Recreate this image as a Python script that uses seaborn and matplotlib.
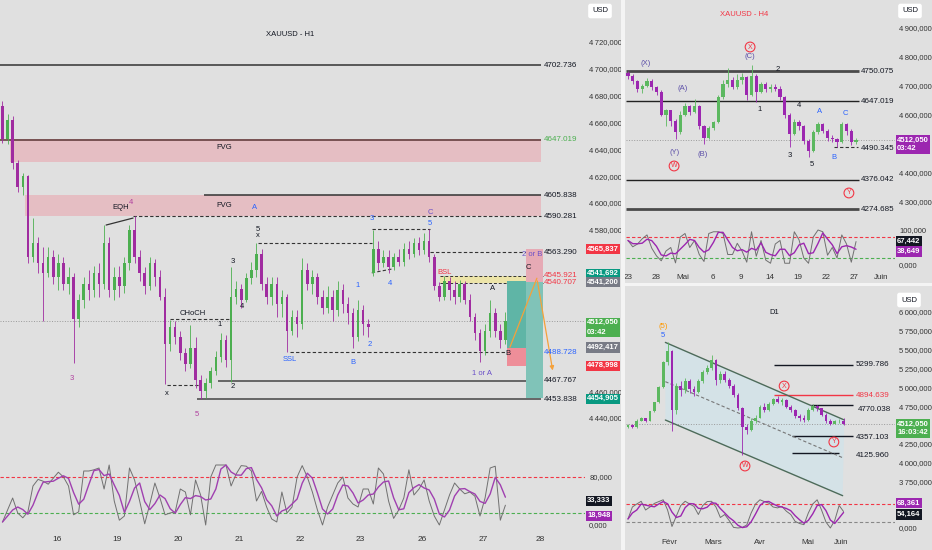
import numpy as np
import pandas as pd
import matplotlib
matplotlib.use("Agg")
import matplotlib.pyplot as plt
import matplotlib.transforms as mtransforms
from matplotlib.patches import Rectangle
import seaborn as sns

# ---------------- DATA : XAUUSD H1 (main) ----------------
h1_open = [4672,4648,4662,4630,4612,4620,4560,4570,4555,4548,
           4560,4545,4555,4540,4545,4514,4528,4540,4535,4548,
           4540,4570,4535,4545,4538,4555,4580,4560,4548,4538,
           4555,4545,4530,4495,4508,4500,4488,4480,4492,4468,
           4460,4466,4475,4485,4498,4483,4530,4536,4528,4544,
           4550,4562,4540,4530,4540,4525,4530,4505,4515,4510,
           4550,4540,4545,4530,4522,4530,4520,4535,4525,4518,
           4500,4520,4510,4548,4566,4555,4560,4552,4560,4556,
           4566,4562,4570,4565,4572,4560,4538,4530,4542,4535,
           4530,4540,4528,4515,4503,4490,4505,4518,4505,4498]
h1_close = [4648,4662,4630,4612,4620,4560,4570,4555,4548,4560,
            4545,4555,4540,4545,4514,4528,4540,4535,4548,4540,
            4570,4535,4545,4538,4555,4580,4560,4548,4538,4555,
            4545,4530,4495,4508,4500,4488,4480,4492,4468,4460,
            4466,4475,4485,4498,4483,4530,4536,4528,4544,4550,
            4562,4540,4530,4540,4525,4530,4505,4515,4510,4550,
            4540,4545,4530,4522,4530,4520,4535,4525,4518,4500,
            4520,4510,4508,4566,4555,4560,4552,4560,4556,4566,
            4562,4570,4565,4572,4560,4538,4530,4542,4535,4530,
            4540,4528,4515,4503,4490,4505,4518,4505,4498,4512]
h1_high = [4676,4666,4665,4632,4622,4621,4589,4575,4567,4567,
           4565,4562,4560,4552,4548,4532,4545,4550,4553,4555,
           4584,4575,4552,4553,4560,4584,4590,4565,4552,4560,
           4558,4550,4537,4513,4512,4505,4492,4509,4500,4472,
           4470,4478,4490,4503,4502,4552,4542,4540,4548,4556,
           4570,4566,4545,4545,4545,4535,4532,4520,4520,4559,
           4555,4550,4548,4535,4538,4535,4542,4540,4530,4522,
           4528,4524,4514,4580,4572,4565,4565,4563,4566,4570,
           4572,4574,4575,4578,4581,4562,4541,4546,4545,4542,
           4543,4542,4532,4518,4506,4510,4528,4522,4510,4519]
h1_low = [4645,4644,4625,4608,4606,4555,4556,4548,4512,4545,
          4540,4535,4535,4532,4481,4508,4522,4528,4530,4530,
          4536,4530,4528,4530,4533,4550,4555,4542,4532,4535,
          4538,4528,4465,4490,4495,4483,4475,4477,4462,4454,
          4455,4462,4472,4482,4478,4467,4525,4522,4526,4540,
          4545,4535,4525,4524,4515,4515,4489,4502,4500,4506,
          4535,4532,4525,4517,4518,4512,4516,4518,4510,4492,
          4497,4502,4500,4546,4550,4552,4548,4550,4553,4553,
          4558,4560,4561,4562,4556,4535,4527,4528,4528,4525,
          4526,4525,4512,4498,4482,4487,4500,4500,4492,4495]
h1_stoch_k = [5,25,45,20,12,22,65,76,73,68,
              78,88,80,65,17,22,90,90,92,95,
              60,100,40,8,15,95,75,40,2,35,
              70,45,17,20,22,60,55,17,75,50,
              0,80,100,100,100,65,85,99,98,90,
              40,56,30,10,5,55,20,30,80,99,
              80,55,25,0,30,50,70,80,45,35,
              30,60,60,35,95,85,40,11,25,45,
              92,50,60,75,40,15,0,25,50,70,
              60,52,55,48,15,45,95,98,8,33]
h1_day_labels = ["16", "19", "20", "21", "22", "23", "26", "27", "28"]
h1_day_pos = [10.7, 22.5, 34.6, 46.6, 58.6, 70.4, 82.6, 94.6, 105.8]
h1_price_ticks = [4440, 4460, 4580, 4600, 4620, 4640, 4660, 4680, 4700, 4720]
h1_last = 4512.050
h1_fvg1 = (4630.5, 4647.5)
h1_fvg2 = (4590.3, 4606.0)
h1_levels_solid = [4702.736, 4647.019, 4605.838, 4467.767, 4453.838]
h1_levels_dashed = [4590.281, 4563.290, 4488.728]
h1_level_texts = [(4702.736, "4702.736", "#131722"), (4647.019, "4647.019", "#4caf50"),
                  (4605.838, "4605.838", "#131722"), (4590.281, "4590.281", "#131722"),
                  (4563.290, "4563.290", "#131722"), (4545.921, "4545.921", "#f23645"),
                  (4540.707, "4540.707", "#f23645"), (4488.728, "4488.728", "#2962ff"),
                  (4467.767, "4467.767", "#131722"), (4453.838, "4453.838", "#131722")]
h1_band = (4540.707, 4545.921)
h1_short_entry, h1_short_stop, h1_short_tp = 4541.200, 4565.837, 4454.905
h1_long_entry, h1_long_stop, h1_long_tp = 4492.417, 4478.998, 4541.692

# ---------------- DATA : H4 ----------------
h4_first_open = 4745
h4_close = [4735,4715,4690,4700,4718,4695,4680,4600,4615,4580,
            4540,4600,4630,4610,4630,4560,4520,4555,4575,4660,
            4705,4720,4695,4720,4730,4670,4735,4680,4705,4690,
            4695,4690,4660,4600,4535,4575,4560,4510,4475,4540,
            4568,4545,4520,4515,4505,4568,4545,4505,4512]
h4_high = [4750,4740,4720,4708,4728,4722,4700,4685,4620,4618,
           4585,4612,4640,4635,4655,4635,4565,4560,4580,4670,
           4720,4760,4730,4740,4745,4735,4772,4740,4712,4712,
           4705,4708,4700,4665,4605,4585,4582,4565,4515,4548,
           4575,4572,4550,4530,4520,4576,4572,4550,4520]
h4_low = [4725,4705,4680,4676,4695,4685,4668,4595,4560,4560,
          4518,4535,4595,4600,4605,4550,4500,4515,4548,4570,
          4655,4695,4688,4690,4705,4650,4665,4645,4675,4678,
          4680,4682,4650,4590,4490,4530,4548,4500,4455,4470,
          4535,4538,4510,4505,4490,4502,4530,4495,4498]
h4_stoch_k = [70,52,60,75,86,48,26,12,40,50,
              6,80,90,50,70,30,10,90,95,95,
              90,30,30,62,40,8,95,25,70,14,
              5,60,70,5,5,95,72,20,5,80,
              100,95,28,50,20,86,60,8,67]
h4_tick_labels = ["23", "28", "Mai", "6", "9", "14", "19", "22", "27", "Juin"]
h4_tick_pos = [0, 5.9, 11.6, 17.9, 23.8, 29.9, 35.8, 41.7, 47.6, 53.3]
h4_price_ticks = [4300, 4400, 4600, 4700, 4800, 4900]
h4_levels = [(4750.075, 2.0), (4647.019, 1.0), (4376.042, 1.0), (4274.685, 2.0)]
h4_dash_level = 4490.345

# ---------------- DATA : D1 ----------------
d1_first_open = 4480
d1_close = [4500,4470,4560,4590,4560,4680,4800,5000,5330,5480,
            4700,5020,4960,5080,4980,4940,5080,5200,5250,5360,
            5100,5180,5100,5020,4900,4720,4480,4440,4560,4600,
            4740,4700,4780,4840,4810,4830,4740,4700,4620,4600,
            4570,4700,4750,4720,4640,4560,4520,4550,4560,4512]
d1_high = [4515,4510,4575,4610,4600,4690,4810,5020,5350,5595,
           5500,5060,5080,5120,5110,5020,5110,5230,5290,5430,
           5380,5210,5220,5130,5040,4920,4740,4520,4600,4640,
           4770,4790,4800,4860,4880,4860,4840,4760,4710,4650,
           4630,4720,4780,4770,4730,4660,4580,4570,4580,4600]
d1_low = [4460,4455,4465,4550,4540,4555,4675,4790,4995,5300,
          4420,4650,4880,4930,4920,4880,4920,5060,5170,5230,
          5030,5060,5070,4990,4870,4700,4103,4380,4420,4530,
          4590,4670,4680,4760,4790,4770,4720,4670,4600,4560,
          4545,4560,4680,4690,4620,4530,4500,4510,4530,4505]
d1_stoch_k = [30,70,80,89,60,70,82,88,94,60,
              5,40,75,89,80,72,45,75,88,89,
              70,35,45,25,2,0,2,10,50,80,
              94,88,83,70,67,72,56,45,22,15,
              11,50,80,94,60,20,0,25,75,55]
d1_tick_labels = ["Févr", "Mars", "Avr", "Mai", "Juin"]
d1_tick_pos = [9.3, 19.3, 30.0, 40.9, 48.4]
d1_price_ticks = [3750, 4000, 4250, 4750, 5000, 5250, 5500, 5750, 6000]
d1_channel_upper = [(8.5, 5595), (49.2, 4567)]
d1_channel_lower = [(8.5, 4567), (48.8, 3565)]
d1_channel_mid = [(8.5, 5075), (48.8, 4068)]

# ---------------- STYLE ----------------
sns.set_theme(style="white")
plt.rcParams["font.family"] = ["Liberation Sans", "DejaVu Sans"]

W, H = 932, 550
BG = "#e0e0e0"
DARK = "#131722"
UP1, DN1 = "#4caf50", "#a02ca0"
UP4, DN4 = "#5cb860", "#9c27b0"
fig = plt.figure(figsize=(W / 100, H / 100), dpi=100, facecolor=BG)


def pax(x0, y0, x1, y1):
    ax = fig.add_axes([x0 / W, 1 - y1 / H, (x1 - x0) / W, (y1 - y0) / H])
    ax.set_facecolor(BG)
    for s in ax.spines.values():
        s.set_visible(False)
    ax.yaxis.tick_right()
    ax.tick_params(length=0, labelsize=5.5, colors="#333333", pad=3)
    ax.grid(False)
    return ax


def fmt_price(v, pos=None):
    s = f"{v:,.3f}"
    return s.replace(",", "\u2009").replace(".", ",")


def draw_candles(ax, x, o, h, l, c, up, dn, width, minbody, wick_lw=0.7):
    x = np.asarray(x, float)
    o = np.asarray(o, float)
    c = np.asarray(c, float)
    h = np.maximum(np.asarray(h, float), np.maximum(o, c))
    l = np.minimum(np.asarray(l, float), np.minimum(o, c))
    cols = np.where(c >= o, up, dn)
    ax.vlines(x, l, h, colors=cols, lw=wick_lw, zorder=4)
    body = np.maximum(np.abs(c - o), minbody)
    ax.bar(x, body, bottom=np.minimum(o, c), width=width, color=cols, lw=0, zorder=5)


def draw_stoch(ax, x, k, kcol, dcol):
    df = pd.DataFrame({"t": x, "k": k})
    df["d"] = df["k"].rolling(3, min_periods=1).mean()
    sns.lineplot(data=df, x="t", y="k", ax=ax, color=kcol, lw=0.7, legend=False, zorder=3)
    sns.lineplot(data=df, x="t", y="d", ax=ax, color=dcol, lw=1.0, legend=False, zorder=4)
    ax.set_xlabel("")
    ax.set_ylabel("")


def axis_box(ax, y, txt, fc, dy_pt=0.0, ls=1.2):
    trans = mtransforms.blended_transform_factory(ax.transAxes, ax.transData)
    ax.annotate(txt, xy=(1.0, y), xycoords=trans, xytext=(1.5, dy_pt), textcoords="offset points",
                ha="left", va="center", fontsize=5.5, color="white", fontweight="bold",
                linespacing=ls, bbox=dict(boxstyle="square,pad=0.2", fc=fc, ec="none"),
                annotation_clip=False, zorder=20)


def circ(ax, x, y, t, col="#f23645"):
    ax.text(x, y, t, color=col, fontsize=5, ha="center", va="center", zorder=9,
            bbox=dict(boxstyle="circle,pad=0.2", fc="none", ec=col, lw=0.8))


# =============== MAIN H1 PRICE ===============
ax = pax(0, 0, 585, 448)
xi = np.arange(len(h1_close))
ax.set_xlim(-0.49, 114.67)
ax.set_ylim(4417.6, 4751.15)
ax.set_xticks([])
ax.set_yticks(h1_price_ticks)
ax.yaxis.set_major_formatter(plt.FuncFormatter(fmt_price))

XE = 106.0
ax.add_patch(Rectangle((1.5, h1_fvg1[0]), XE - 1.5, h1_fvg1[1] - h1_fvg1[0], fc="#e5bec3", ec="none", zorder=1))
ax.add_patch(Rectangle((4.4, h1_fvg2[0]), XE - 4.4, h1_fvg2[1] - h1_fvg2[0], fc="#e5bec3", ec="none", zorder=1))
ax.text(43.6, 4641.0, "FVG", fontsize=5.5, color=DARK, ha="center", va="center", zorder=6)
ax.text(43.6, 4598.5, "FVG", fontsize=5.5, color=DARK, ha="center", va="center", zorder=6)

starts_solid = [-0.49, -0.49, 39.7, 42.4, 38.3]
cols_solid = ["#333333", "#5a3434", "#333333", "#444444", "#444444"]
for lv, s0, cc in zip(h1_levels_solid, starts_solid, cols_solid):
    ax.hlines(lv, s0, XE, color=cc, lw=1.1, zorder=2)
for lv, s0 in zip(h1_levels_dashed, [25.7, 84.2, 56.6]):
    ax.hlines(lv, s0, XE, color="#333333", lw=0.8, ls=(0, (3, 2)), zorder=2)
ax.hlines(4570.2, 50.3, 72.7, color="#333333", lw=0.8, ls=(0, (3, 2)), zorder=2)
ax.hlines(4580.6, 72.7, 84.1, color="#333333", lw=0.8, ls=(0, (3, 2)), zorder=2)
ax.plot([72.7, 76.7], [4548.0, 4550.9], color="#333333", lw=0.8, ls=(0, (3, 2)), zorder=2)
ax.hlines(4513.6, 33.0, 44.8, color="#333333", lw=0.8, ls=(0, (3, 2)), zorder=2)
ax.hlines(4464.5, 32.4, 38.9, color="#333333", lw=0.8, ls=(0, (3, 2)), zorder=2)
ax.plot([20.4, 25.7], [4583.6, 4588.8], color="#333333", lw=0.9, zorder=6)

ax.add_patch(Rectangle((86.1, h1_band[0]), 106.4 - 86.1, h1_band[1] - h1_band[0], fc="#ece4a8", ec="none", zorder=1))
ax.hlines(list(h1_band), 86.1, 106.4, color="#333333", lw=0.7, ls=(0, (3, 2)), zorder=2)

ax.add_patch(Rectangle((99.3, h1_long_entry), 3.8, h1_long_tp - h1_long_entry, fc="#5fb5a6", ec="none", zorder=2))
ax.add_patch(Rectangle((99.3, h1_long_stop), 3.8, h1_long_entry - h1_long_stop, fc="#ee8e99", ec="none", zorder=2))
ax.add_patch(Rectangle((103.1, h1_short_entry), 3.3, h1_short_stop - h1_short_entry, fc="#e6aab5", ec="none", zorder=2))
ax.add_patch(Rectangle((103.1, h1_short_tp), 3.3, h1_short_entry - h1_short_tp, fc="#80c3b8", ec="none", zorder=2))

ax.axhline(h1_last, color="#9a9a9a", lw=0.7, ls=":", zorder=1)
draw_candles(ax, xi, h1_open, h1_high, h1_low, h1_close, UP1, DN1, 0.5, 0.6, wick_lw=0.6)

ax.plot([99.9, 105.2], [4492.7, 4544.0], color="#f5a13a", lw=0.9, zorder=7)
ax.annotate("", xy=(108.4, 4473.3), xytext=(105.2, 4544.0),
            arrowprops=dict(arrowstyle="-|>", color="#f5a13a", lw=0.9, mutation_scale=6), zorder=7)

for lv, t, cc in h1_level_texts:
    ax.text(106.5, lv, t, fontsize=5.8, color=cc, ha="left", va="center", zorder=8)

BLUE, PURP, MAG = "#2962ff", "#6a4fc8", "#b0409e"
h1_labels = [(23.3, 4596.3, "EQH", DARK), (25.3, 4600.7, "4", MAG), (13.7, 4469.7, "3", MAG),
             (32.4, 4458.5, "x", DARK), (38.3, 4442.2, "5", MAG), (37.5, 4517.4, "CHoCH", DARK),
             (42.8, 4509.9, "1", DARK), (45.4, 4463.7, "2", DARK), (45.4, 4556.1, "3", DARK),
             (47.1, 4523.3, "4", DARK), (50.3, 4578.0, "5\nx", DARK), (49.7, 4597.0, "A", BLUE),
             (56.6, 4483.8, "SSL", BLUE), (69.0, 4480.9, "B", BLUE), (70.0, 4538.9, "1", BLUE),
             (72.3, 4494.3, "2", BLUE), (72.7, 4588.1, "3", BLUE), (76.3, 4540.4, "4", BLUE),
             (84.2, 4585.1, "5", BLUE), (84.2, 4593.3, "C", PURP), (87.0, 4548.6, "BSL", "#f23645"),
             (96.4, 4536.7, "A", DARK), (94.4, 4473.4, "1 or A", PURP), (99.5, 4487.6, "B", DARK),
             (103.6, 4552.3, "C", DARK), (104.2, 4561.3, "2 or B", PURP)]
for x_, y_, t, cc in h1_labels:
    ax.text(x_, y_, t, fontsize=5.5, color=cc, ha="center", va="center", zorder=9, linespacing=0.9)
ax.text(290 / 585, 1 - 34 / 448, "XAUUSD - H1", transform=ax.transAxes, fontsize=5.5,
        color=DARK, ha="center", va="center")

axis_box(ax, h1_short_stop, "4565,837", "#f23645")
axis_box(ax, h1_long_tp, "4541,692", "#089981", dy_pt=5.5)
axis_box(ax, h1_short_entry, "4541,200", "#787b86")
axis_box(ax, h1_last, "4512,050\n03:42", "#4caf50", dy_pt=-4.5, ls=1.5)
axis_box(ax, h1_long_entry, "4492,417", "#787b86")
axis_box(ax, h1_long_stop, "4478,998", "#f23645")
axis_box(ax, h1_short_tp, "4454,905", "#089981", dy_pt=-0.5)

# =============== MAIN H1 OSC ===============
axo = pax(0, 450, 585, 530)
axo.set_xlim(-0.49, 114.67)
axo.set_ylim(-8.33, 125)
axo.axhline(80, color="#f23645", lw=0.8, ls=(0, (3, 2)))
axo.axhline(20, color="#4caf50", lw=0.8, ls=(0, (3, 2)))
draw_stoch(axo, xi, h1_stoch_k, "#707070", "#a040b0")
axo.set_yticks([0, 80])
axo.yaxis.set_major_formatter(plt.FuncFormatter(fmt_price))
axo.set_xticks(h1_day_pos)
axo.set_xticklabels(h1_day_labels)
axo.tick_params(axis="x", labelsize=6, pad=4)
axis_box(axo, 33.333, "33,333", "#131722", dy_pt=3.2)
axis_box(axo, 18.948, "18,948", "#9c27b0", dy_pt=-1.5)

# =============== H4 PRICE ===============
a4 = pax(626, 0, 895, 222)
k = np.arange(len(h4_close))
h4_open = np.concatenate([[h4_first_open], h4_close[:-1]])
a4.set_xlim(-0.42, 56.2)
a4.set_ylim(4229.8, 4996.4)
a4.set_xticks([])
a4.set_yticks(h4_price_ticks)
a4.yaxis.set_major_formatter(plt.FuncFormatter(fmt_price))
for lv, lw in h4_levels:
    a4.hlines(lv, -0.42, 48.6, color="#4a4a4a" if lw > 1 else "#222222", lw=lw, zorder=2)
    a4.text(49.1, lv, f"{lv:.3f}", fontsize=5.8, color=DARK, ha="left", va="center")
a4.hlines(h4_dash_level, 43.4, 48.4, color="#333333", lw=0.8, ls=(0, (3, 2)), zorder=2)
a4.text(49.1, h4_dash_level - 8, f"{h4_dash_level:.3f}", fontsize=5.8, color=DARK, ha="left", va="center")
a4.axhline(h1_last, color="#9a9a9a", lw=0.7, ls=":", zorder=1)
draw_candles(a4, k, h4_open, h4_high, h4_low, h4_close, UP4, DN4, 0.7, 2.0, wick_lw=0.6)
P4 = "#5c4fa8"
h4_labels = [(3.8, 4775.4, "(X)", P4), (11.4, 4692.5, "(A)", P4), (9.7, 4468.1, "(Y)", P4),
             (15.8, 4464.6, "(B)", P4), (25.7, 4799.6, "(C)", P4), (31.6, 4754.7, "2", DARK),
             (27.6, 4620.0, "1", DARK), (36.0, 4633.8, "4", DARK), (34.1, 4461.1, "3", DARK),
             (38.7, 4430.0, "5", DARK), (40.4, 4609.7, "A", BLUE), (43.4, 4454.2, "B", BLUE),
             (45.7, 4602.8, "C", BLUE)]
for x_, y_, t, cc in h4_labels:
    a4.text(x_, y_, t, fontsize=5.5, color=cc, ha="center", va="center", zorder=9)
circ(a4, 25.7, 4834.1, "X")
circ(a4, 9.7, 4423.2, "W")
circ(a4, 46.5, 4330.0, "Y")
a4.text((744 - 626) / 269, 1 - 14 / 222, "XAUUSD - H4", transform=a4.transAxes, fontsize=5.5,
        color="#f23645", ha="center", va="center")
axis_box(a4, h1_last, "4512,050\n03:42", "#9c27b0", dy_pt=-3.0, ls=1.3)

# =============== H4 OSC ===============
a4o = pax(626, 225, 895, 268)
a4o.set_xlim(-0.42, 56.2)
a4o.set_ylim(-8.57, 114.3)
a4o.axhline(80, color="#f23645", lw=0.8, ls=(0, (3, 2)))
a4o.axhline(20, color="#4caf50", lw=0.8, ls=(0, (3, 2)))
draw_stoch(a4o, k, h4_stoch_k, "#707070", "#9c27b0")
a4o.set_yticks([0, 100])
a4o.yaxis.set_major_formatter(plt.FuncFormatter(fmt_price))
a4o.set_xticks(h4_tick_pos)
a4o.set_xticklabels(h4_tick_labels)
a4o.tick_params(axis="x", labelsize=5.8, pad=4)
axis_box(a4o, 67.442, "67,442", "#131722")
axis_box(a4o, 38.649, "38,649", "#9c27b0")

# =============== D1 PRICE ===============
ad = pax(626, 287, 895, 497)
j = np.arange(len(d1_close))
d1_open = np.concatenate([[d1_first_open], d1_close[:-1]])
ad.set_xlim(-0.45, 60.7)
ad.set_ylim(3547.4, 6328.8)
ad.set_xticks([])
ad.set_yticks(d1_price_ticks)
ad.yaxis.set_major_formatter(plt.FuncFormatter(fmt_price))
(ux0, uy0), (ux1, uy1) = d1_channel_upper
(lx0, ly0), (lx1, ly1) = d1_channel_lower
(mx0, my0), (mx1, my1) = d1_channel_mid
ad.fill([ux0, ux1, lx1, lx0], [uy0, uy1, ly1, ly0], color="#d4e2e7", lw=0, zorder=1)
ad.plot([ux0, ux1], [uy0, uy1], color="#4d6b5a", lw=1.0, zorder=3)
ad.plot([lx0, lx1], [ly0, ly1], color="#4d6b5a", lw=1.0, zorder=3)
ad.plot([mx0, mx1], [my0, my1], color="#777777", lw=0.8, ls=(0, (3, 2)), zorder=3)
d1_lines = [(5299.786, 33.2, 51.1, DARK, 0), (4894.639, 33.2, 51.1, "#f23645", 0),
            (4770.038, 41.6, 51.1, DARK, -70), (4357.103, 37.3, 51.1, DARK, -25),
            (4125.960, 37.3, 48.0, DARK, -25)]
for lv, s0, s1, cc, off in d1_lines:
    ad.hlines(lv, s0, s1, color=cc, lw=1.0, zorder=2)
    ad.text(51.8 if off > -50 else 52.3, lv + off, f"{lv:.3f}", fontsize=5.8, color=cc, ha="left", va="center")
ad.axhline(h1_last, color="#9a9a9a", lw=0.7, ls=":", zorder=1)
draw_candles(ad, j, d1_open, d1_high, d1_low, d1_close, UP4, DN4, 0.65, 8.0, wick_lw=0.6)
ad.text(8.0, 5812, "(5)", fontsize=5.5, color="#ff9800", ha="center", va="center")
ad.text(8.0, 5680, "5", fontsize=5.5, color=BLUE, ha="center", va="center")
circ(ad, 26.6, 3958, "W")
circ(ad, 35.5, 5017, "X")
circ(ad, 46.8, 4276, "Y")
ad.text((774 - 626) / 269, 1 - (312 - 287) / 210, "D1", transform=ad.transAxes, fontsize=5.5,
        color=DARK, ha="center", va="center")
axis_box(ad, h1_last, "4512,050\n16:03:42", "#4caf50", dy_pt=-3.0, ls=1.3)

# =============== D1 OSC ===============
ado = pax(626, 497, 895, 533)
ado.set_xlim(-0.45, 60.7)
ado.set_ylim(-16.7, 103.3)
ado.axhline(80, color="#f23645", lw=0.8, ls=(0, (3, 2)))
ado.axhline(20, color="#888888", lw=0.8, ls=(0, (3, 2)))
draw_stoch(ado, j, d1_stoch_k, "#707070", "#9c27b0")
ado.set_yticks([0])
ado.yaxis.set_major_formatter(plt.FuncFormatter(fmt_price))
ado.set_xticks(d1_tick_pos)
ado.set_xticklabels(d1_tick_labels)
ado.tick_params(axis="x", labelsize=5.8, pad=4)
axis_box(ado, 68.361, "68,361", "#9c27b0", dy_pt=3.0)
axis_box(ado, 54.164, "54,164", "#131722", dy_pt=-2.0)

# =============== FRAME DECORATIONS ===============
fig.add_artist(Rectangle((621 / W, 0), 4 / W, 1, transform=fig.transFigure, fc="#f4f4f4", ec="none"))
fig.add_artist(Rectangle((625 / W, 1 - 286 / H), (W - 625) / W, 3 / H, transform=fig.transFigure,
                         fc="#f4f4f4", ec="none"))
for xp, yp in [(600, 11), (910, 11), (909, 300)]:
    fig.text(xp / W, 1 - yp / H, "USD", fontsize=5.5, color=DARK, ha="center", va="center",
             bbox=dict(boxstyle="round,pad=0.5,rounding_size=0.3", fc="white", ec="none"))

fig.savefig("out.png", dpi=100, facecolor=BG)
